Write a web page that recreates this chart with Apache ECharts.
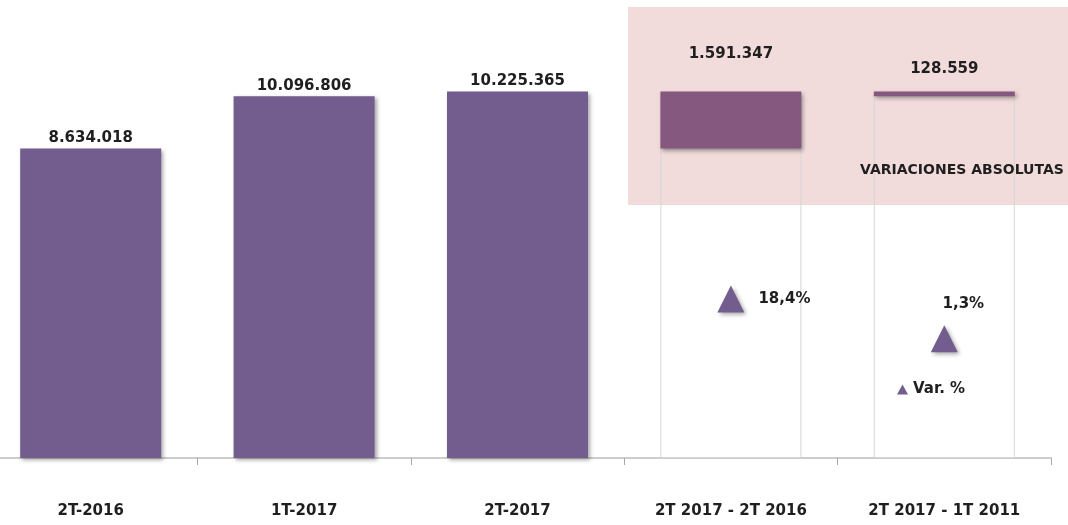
<!DOCTYPE html>
<html>
<head>
<meta charset="utf-8">
<script src="https://cdn.jsdelivr.net/npm/echarts@6/dist/echarts.min.js"></script>
<style>
  html, body { margin: 0; padding: 0; background: #ffffff; overflow: hidden; }
  /* the first category starts slightly left of the page edge */
  #chart { position: absolute; left: -16px; top: 0; width: 1084px; height: 525px; }
</style>
</head>
<body>
<div id="chart"></div>
<script>
// Periods and absolute / relative variations
const categories = ['2T-2016', '1T-2017', '2T-2017', '2T 2017 - 2T 2016', '2T 2017 - 1T 2011'];
const barValues = [8634018, 10096806, 10225365, 1591347, 128559];
// Floating variation bars start on the level of the earlier period
const barBases = [0, 0, 0, 8634018, 10096806];
const pctValues = [null, null, null, 18.4, 1.3];
const pctName = 'Var. %';
const boxTitle = 'VARIACIONES ABSOLUTAS';

const FONT = 'DejaVu Sans';
const PURPLE = '#735C8E';
const PLUM = '#85597F';
const TEXT = '#1f1f1f';
const SHIFT = 16; // canvas offset to the left of the page

const fmtThousands = v => String(v).replace(/\B(?=(\d{3})+(?!\d))/g, '.');
const fmtPct = v => v.toFixed(1).replace('.', ',') + '%';

const barShadow = {
  shadowColor: 'rgba(0,0,0,0.35)',
  shadowBlur: 4,
  shadowOffsetX: 2,
  shadowOffsetY: 2
};

// Label offsets for the two variation bars (their labels sit higher)
const varLabelOffsets = { 3: [0, -27], 4: [0, -12] };

const baseData = barBases.map(v => ({
  value: v,
  itemStyle: {
    color: 'rgba(0,0,0,0)',
    borderColor: v > 0 ? '#D6D6D6' : 'rgba(0,0,0,0)',
    borderWidth: 1
  }
}));

const valueData = barValues.map((v, i) => {
  const isVar = barBases[i] > 0;
  return {
    value: v,
    itemStyle: Object.assign({ color: isVar ? PLUM : PURPLE }, barShadow),
    label: { offset: varLabelOffsets[i] || [0, 0] }
  };
});

const pctData = pctValues.map((v, i) => {
  if (v == null) return '-';
  const item = { value: v };
  if (i === 4) {
    item.label = { position: 'top', distance: 5, offset: [19, -9] };
  }
  return item;
});

const chart = echarts.init(document.getElementById('chart'), null, { renderer: 'canvas' });

chart.setOption({
  animation: false,
  backgroundColor: '#ffffff',
  graphic: [
    {
      type: 'rect',
      z: -10,
      shape: { x: 628 + SHIFT, y: 7, width: 440, height: 198 },
      style: { fill: '#F2DCDB' }
    },
    {
      type: 'text',
      z: 10,
      style: {
        text: boxTitle,
        x: 860 + SHIFT,
        y: 170,
        verticalAlign: 'middle',
        font: 'bold 14px "' + FONT + '"',
        fill: TEXT
      }
    }
  ],
  legend: {
    data: [pctName],
    left: 892 + SHIFT,
    top: 377,
    icon: 'triangle',
    itemWidth: 11,
    itemHeight: 10,
    itemGap: 6,
    itemStyle: { opacity: 1 },
    textStyle: { fontFamily: FONT, fontWeight: 'bold', fontSize: 15, color: TEXT }
  },
  grid: { left: 0, right: 17, top: 28, bottom: 67, containLabel: false },
  xAxis: {
    type: 'category',
    data: categories,
    axisLine: { show: true, lineStyle: { color: '#BDBDBD', width: 1.5 } },
    axisTick: { show: true, length: 7, lineStyle: { color: '#A8A8A8' } },
    axisLabel: {
      margin: 46,
      fontFamily: FONT,
      fontWeight: 'bold',
      fontSize: 15,
      color: TEXT
    },
    splitLine: { show: false }
  },
  yAxis: [
    { type: 'value', min: 0, max: 12000000, show: false, splitLine: { show: false } },
    { type: 'value', min: -50, max: 135, show: false, splitLine: { show: false } }
  ],
  series: [
    {
      name: 'base',
      type: 'bar',
      stack: 'total',
      barWidth: 141,
      data: baseData,
      silent: true,
      z: 2
    },
    {
      name: 'valor',
      type: 'bar',
      stack: 'total',
      barWidth: 141,
      data: valueData,
      z: 3,
      label: {
        show: true,
        position: 'top',
        distance: 3,
        fontFamily: FONT,
        fontWeight: 'bold',
        fontSize: 15,
        color: TEXT,
        formatter: p => fmtThousands(p.value)
      }
    },
    {
      name: pctName,
      type: 'scatter',
      yAxisIndex: 1,
      symbol: 'triangle',
      symbolSize: 27,
      data: pctData,
      z: 5,
      itemStyle: Object.assign({ color: PURPLE, opacity: 1 }, barShadow),
      label: {
        show: true,
        position: 'right',
        distance: 14,
        fontFamily: FONT,
        fontWeight: 'bold',
        fontSize: 15,
        color: TEXT,
        formatter: p => fmtPct(p.value)
      }
    }
  ]
});
</script>
</body>
</html>
